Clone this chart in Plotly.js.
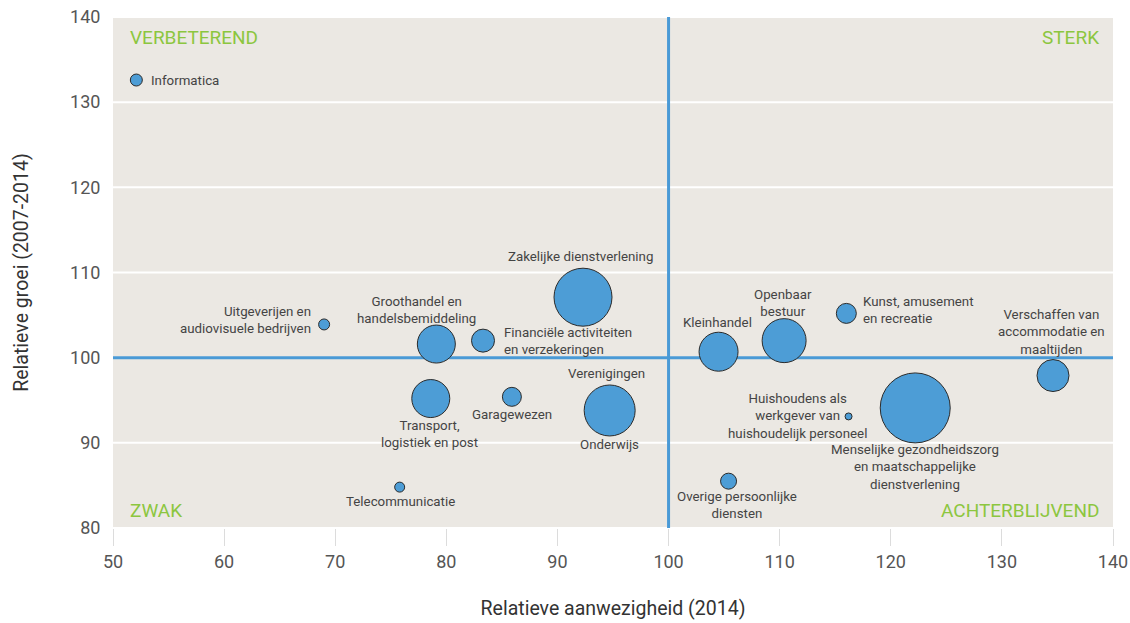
<!DOCTYPE html>
<html>
<head>
<meta charset="utf-8">
<script src="https://cdn.plot.ly/plotly-3.0.1.min.js"></script>
<style>html,body{margin:0;padding:0;background:#fff;}#chart{width:1130px;height:623px;}</style>
</head>
<body>
<div id="chart"></div>
<script>
// ---- data ----
var sectors = [
  "Informatica",
  "Uitgeverijen en<br>audiovisuele bedrijven",
  "Groothandel en<br>handelsbemiddeling",
  "Financiële activiteiten<br>en verzekeringen",
  "Transport,<br>logistiek en post",
  "Garagewezen",
  "Telecommunicatie",
  "Zakelijke dienstverlening",
  "Verenigingen",
  "Onderwijs",
  "Kleinhandel",
  "Openbaar<br>bestuur",
  "Kunst, amusement<br>en recreatie",
  "Huishoudens als<br>werkgever van<br>huishoudelijk personeel",
  "Menselijke gezondheidszorg<br>en maatschappelijke<br>dienstverlening",
  "Overige persoonlijke<br>diensten",
  "Verschaffen van<br>accommodatie en<br>maaltijden"
];
var presence = [52.1, 69.0, 79.1, 83.3, 78.6, 85.9, 75.8, 92.3, 94.6, 94.7, 104.5, 110.4, 116.0, 116.2, 122.2, 105.4, 134.6];
var growth   = [132.6, 103.9, 101.6, 102.0, 95.2, 95.4, 84.8, 107.1, 95.5, 93.8, 100.7, 102.0, 105.2, 93.1, 94.1, 85.5, 97.9];
var weight   = [12, 11, 38, 23, 38, 19, 10, 58, 12, 51, 39, 44, 20, 7, 70, 16, 32];
var xTicks = [50, 60, 70, 80, 90, 100, 110, 120, 130, 140];
var yTicks = [80, 90, 100, 110, 120, 130, 140];
var reference = 100;
var quadrants = ["VERBETEREND", "STERK", "ZWAK", "ACHTERBLIJVEND"];
var xTitle = "Relatieve aanwezigheid (2014)";
var yTitle = "Relatieve groei (2007-2014)";

// ---- label placement (styling only) ----
var labelPos = [
  {xa:"left",   xs:13,  ys:0},
  {xa:"right",  xs:-11, ys:4},
  {xa:"center", xs:-20, ys:34},
  {xa:"left",   xs:19,  ys:0},
  {xa:"center", xs:-1,  ys:-35},
  {xa:"center", xs:0,   ys:-18},
  {xa:"center", xs:1,   ys:-14},
  {xa:"center", xs:-3,  ys:41},
  {xa:"center", xs:-2,  ys:22},
  {xa:"center", xs:0,   ys:-34},
  {xa:"center", xs:-1,  ys:29},
  {xa:"center", xs:-1,  ys:38},
  {xa:"left",   xs:15,  ys:3},
  {xa:"center", xs:-51, ys:0},
  {xa:"center", xs:0,   ys:-59},
  {xa:"center", xs:8,   ys:-24},
  {xa:"center", xs:-2,  ys:44}
];

var FONT = "Roboto, 'DejaVu Sans', sans-serif";
var annotations = sectors.map(function(s, i){
  var p = labelPos[i];
  return {x: presence[i], y: growth[i], xref:"x", yref:"y", text: s, showarrow:false,
    xanchor: p.xa, yanchor:"middle", align: p.xa === "left" ? "left" : (p.xa === "right" ? "right" : "center"),
    xshift: p.xs, yshift: p.ys, font:{family:FONT, size:13.3, color:"#444"}};
});
var qPos = [
  {x:0.015, y:0.959, xa:"left"},
  {x:0.988, y:0.959, xa:"right"},
  {x:0.015, y:0.035, xa:"left"},
  {x:0.988, y:0.035, xa:"right"}
];
quadrants.forEach(function(q, i){
  var p = qPos[i];
  annotations.push({x:p.x, y:p.y, xref:"paper", yref:"paper", text:q, showarrow:false,
    xanchor:p.xa, yanchor:"middle", font:{family:FONT, size:19, color:"#8cc63f"}});
});

var trace = {
  type:"scatter", mode:"markers", x: presence, y: growth, text: sectors, hoverinfo:"text",
  marker:{size: weight, sizemode:"diameter", color:"#4d9dd6", opacity:1, line:{color:"#2b2b2b", width:1}}
};

var shapes = yTicks.map(function(v){
  return {type:"line", xref:"paper", yref:"y", x0:0, x1:1, y0:v, y1:v, layer:"below",
    line:{color:"#ffffff", width:2}};
});
shapes.push({type:"line", xref:"x", yref:"paper", x0:reference, x1:reference, y0:0, y1:1, layer:"below",
  line:{color:"#4a9ad6", width:3}});
shapes.push({type:"line", xref:"paper", yref:"y", x0:0, x1:1, y0:reference, y1:reference, layer:"below",
  line:{color:"#4a9ad6", width:3}});

var layout = {
  width:1130, height:623,
  margin:{l:113, r:17, t:17, b:95},
  paper_bgcolor:"#ffffff", plot_bgcolor:"#ebe8e3",
  showlegend:false,
  font:{family:FONT, color:"#555"},
  xaxis:{range:[50,140], tickvals:xTicks, showgrid:false, zeroline:false, showline:false,
    ticks:"outside", ticklen:17, tickwidth:1, tickcolor:"#dcdcdc",
    tickfont:{family:FONT, size:18, color:"#555"},
    title:{text:xTitle, font:{family:FONT, size:19.5, color:"#333"}, standoff:30}},
  yaxis:{range:[80,140], tickvals:yTicks, showgrid:false,
    zeroline:false, showline:false, ticks:"outside", ticklen:8, tickcolor:"rgba(0,0,0,0)",
    tickfont:{family:FONT, size:18, color:"#555"},
    title:{text:yTitle, font:{family:FONT, size:19.5, color:"#333"}, standoff:36}},
  shapes: shapes,
  annotations: annotations
};

Plotly.newPlot("chart", [trace], layout, {displayModeBar:false, staticPlot:true});
</script>
</body>
</html>
